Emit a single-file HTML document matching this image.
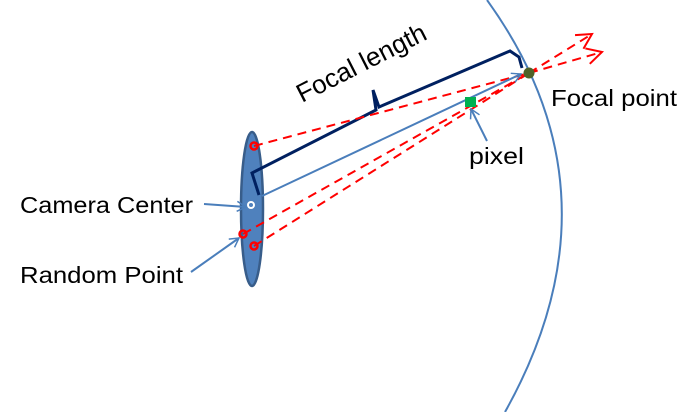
<!DOCTYPE html>
<html><head><meta charset="utf-8"><style>
html,body{margin:0;padding:0;background:#fff;}
svg{display:block;}
text{font-family:"Liberation Sans",sans-serif;fill:#000;}
</style></head><body>
<svg width="698" height="412" viewBox="0 0 698 412">
<defs>
<marker id="ab" markerWidth="12" markerHeight="12" refX="10" refY="6" orient="auto" markerUnits="userSpaceOnUse"><path d="M1,1 L10,6 L1,11" fill="none" stroke="#4a7ebb" stroke-width="1.5"/></marker>
<marker id="ar" markerWidth="20" markerHeight="20" refX="17" refY="10" orient="auto" markerUnits="userSpaceOnUse"><path d="M2,2 L17,10 L2,18" fill="none" stroke="#ff0000" stroke-width="2"/></marker>
</defs>
<path d="M487,0 Q627,194 505,412" fill="none" stroke="#4a7ebb" stroke-width="2"/>
<ellipse cx="252" cy="209" rx="11" ry="77" fill="#4f81bd" stroke="#385d8a" stroke-width="2.5"/>
<path d="M259,195 L252,173 L376,110 L373,90 L379,107 L510,51 L519,57 L522,68" fill="none" stroke="#002060" stroke-width="3" stroke-linejoin="miter"/>
<g fill="none" stroke="#ff0000" stroke-width="2" stroke-dasharray="9,6">
<line x1="254" y1="146" x2="529" y2="73"/>
<line x1="243" y1="234" x2="529" y2="73"/>
<line x1="254" y1="246" x2="529" y2="73"/>
<line x1="529" y1="73" x2="592" y2="34" marker-end="url(#ar)"/>
<line x1="529" y1="73" x2="602" y2="52" marker-end="url(#ar)"/>
</g>
<line x1="262" y1="196" x2="521" y2="74" stroke="#4a7ebb" stroke-width="2" marker-end="url(#ab)"/>
<rect x="465" y="97" width="11" height="10" fill="#00b050"/>
<circle cx="529" cy="73" r="5.5" fill="#4f6228"/>
<circle cx="254" cy="146" r="3.5" fill="none" stroke="#ff0000" stroke-width="2.5"/>
<circle cx="243" cy="234" r="3.5" fill="none" stroke="#ff0000" stroke-width="2.5"/>
<circle cx="254" cy="246" r="3.5" fill="none" stroke="#ff0000" stroke-width="2.5"/>
<circle cx="251" cy="205" r="3" fill="none" stroke="#fff" stroke-width="2"/>
<line x1="204" y1="204" x2="246" y2="207" stroke="#4a7ebb" stroke-width="2" marker-end="url(#ab)"/>
<line x1="191" y1="272" x2="239" y2="238" stroke="#4a7ebb" stroke-width="2" marker-end="url(#ab)"/>
<line x1="487" y1="141" x2="471" y2="109" stroke="#4a7ebb" stroke-width="2" marker-end="url(#ab)"/>
<text x="302" y="103" font-size="26" textLength="142" lengthAdjust="spacingAndGlyphs" transform="rotate(-27 302 103)">Focal length</text>
<text x="551" y="106" font-size="23" textLength="126" lengthAdjust="spacingAndGlyphs">Focal point</text>
<text x="469" y="164" font-size="23" textLength="55" lengthAdjust="spacingAndGlyphs">pixel</text>
<text x="20" y="213" font-size="23" textLength="173" lengthAdjust="spacingAndGlyphs">Camera Center</text>
<text x="20" y="283" font-size="23" textLength="163" lengthAdjust="spacingAndGlyphs">Random Point</text>
</svg>
</body></html>
